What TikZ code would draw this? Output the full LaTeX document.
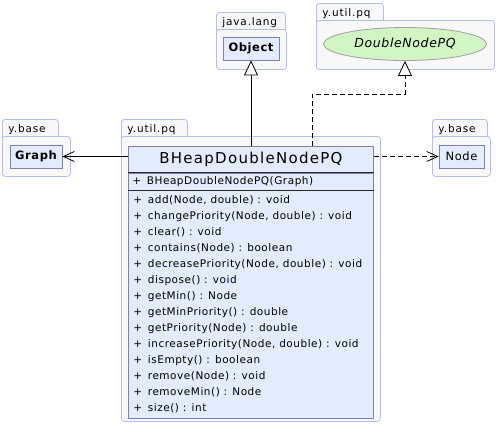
\documentclass[tikz,border=0pt]{standalone}
\usepackage{fontspec}
\setmainfont{DejaVu Sans}
\newfontfamily\titlefont[LetterSpace=8.5]{DejaVu Sans}
\newfontfamily\umlfont[LetterSpace=5]{DejaVu Sans}
\newfontfamily\tabfont[LetterSpace=8]{DejaVu Sans}
\newfontfamily\boxfont[LetterSpace=5]{DejaVu Sans}
\usetikzlibrary{arrows.meta,positioning,calc,shapes.geometric}

\definecolor{pkgline}{HTML}{B4BCF4}
\definecolor{pkgfill}{HTML}{F8F8F8}
\definecolor{clsfill}{HTML}{E2ECFC}
\definecolor{clsline}{HTML}{7E80B4}
\definecolor{ifill}{HTML}{D2F5C4}
\definecolor{iline}{HTML}{A0A0A0}

\newcommand\umlop[1]{\makebox[14.5pt][l]{+}#1}

\begin{document}
\begin{tikzpicture}[
  x=1pt, y=-1pt,
  line width=0.8pt,
  pkgtab/.style={draw=pkgline, fill=pkgfill, rounded corners=3pt, anchor=north west,
    inner xsep=6pt, inner ysep=3.5pt, text height=9.5pt, text depth=5pt,
    text width=#1-12pt, align=left, font=\tabfont\fontsize{10.5}{12}\selectfont},
  pkg/.style={draw=pkgline, fill=pkgfill, rounded corners=3pt, anchor=north west},
  cls/.style={draw=clsline, fill=clsfill, anchor=north west, minimum width=245pt},
  sep/.style={draw=black!85},
  box/.style={draw=clsline, fill=clsfill, font=\boxfont\fontsize{11.5}{13}\selectfont,
    inner sep=0pt},
  iface/.style={ellipse, draw=iline, fill=ifill,
    font=\boxfont\fontsize{12.5}{14}\selectfont\itshape},
  oprow/.style={anchor=west, inner sep=0pt, font=\umlfont\fontsize{10.5}{12}\selectfont},
  inh/.style={-{Triangle[open, fill=white, length=15pt, width=14pt]}},
  real/.style={inh, dash pattern=on 5pt off 3pt},
  assoc/.style={-{Straight Barb[length=11pt, width=10pt]}},
  dep/.style={assoc, dash pattern=on 5pt off 3pt}
]
  \useasboundingbox (0,0) rectangle (497,424);

  % packages
  \node[pkgtab=69pt] (jltab) at (216,12) {java.lang};
  \node[pkg, minimum width=70pt, minimum height=40pt] (jl) at (216,29) {};
  \node[pkgtab=67pt] (pqtab) at (316,3) {y.util.pq};
  \node[pkg, minimum width=178pt, minimum height=49pt] (pqtop) at (316,20) {};
  \node[pkgtab=56pt] (bltab) at (2,119) {y.base};
  \node[pkg, minimum width=68pt, minimum height=40pt] (bl) at (2,136) {};
  \node[pkgtab=66pt] (pqtab2) at (121,119) {y.util.pq};
  \node[pkg, minimum width=259pt, minimum height=285pt] (pq) at (121,136) {};
  \node[pkgtab=55pt] (brtab) at (432,119) {y.base};
  \node[pkg, minimum width=58pt, minimum height=40pt] (br) at (432,136) {};

  % referenced types
  \node[box, minimum width=56pt, minimum height=23pt] (obj) at (251,48.5) {\bfseries Object};
  \node[iface, minimum width=163pt, minimum height=33pt] (dnpq) at (405,44) {DoubleNodePQ};
  \node[box, minimum width=52pt, minimum height=23pt] (graph) at (36,156.5) {\bfseries Graph};
  \node[box, minimum width=45pt, minimum height=23pt] (node) at (461.5,156.5) {Node};

  % the class
  \node[cls, minimum height=26pt] (hdr) at (128,146)
    {\titlefont\fontsize{15}{17}\selectfont BHeapDoubleNodePQ};
  \node[cls, minimum height=16.5pt, text width=237pt, inner xsep=4pt, align=left,
    font=\umlfont\fontsize{10.5}{12}\selectfont] (ctor) at (hdr.south west)
    {\umlop{BHeapDoubleNodePQ(Graph)}};
  \node[cls, minimum height=228pt] (ops) at (ctor.south west) {};
  \draw[sep] (ctor.north west) -- (ctor.north east);
  \draw[sep] (ops.north west) -- (ops.north east);
  \foreach \m [count=\i] in {{add(Node, double) : void}, {changePriority(Node, double) : void},
      {clear() : void}, {contains(Node) : boolean}, {decreasePriority(Node, double) : void},
      {dispose() : void}, {getMin() : Node}, {getMinPriority() : double},
      {getPriority(Node) : double}, {increasePriority(Node, double) : void},
      {isEmpty() : boolean}, {remove(Node) : void}, {removeMin() : Node}, {size() : int}}
    \node[oprow] (m\i) at ($(ops.north west)+(5,10+16*\i-16)$) {\umlop{\m}};

  % relations
  \draw[inh] (hdr.north -| obj.south) -- (obj.south);
  \draw[real] ($(hdr.north west)!0.75!(hdr.north east)$) -- ++(0,-52) -| (dnpq.south);
  \draw[assoc] (hdr.west |- graph.east) -- (graph.east);
  \draw[dep] (hdr.east |- node.west) -- (node.west);
\end{tikzpicture}
\end{document}
